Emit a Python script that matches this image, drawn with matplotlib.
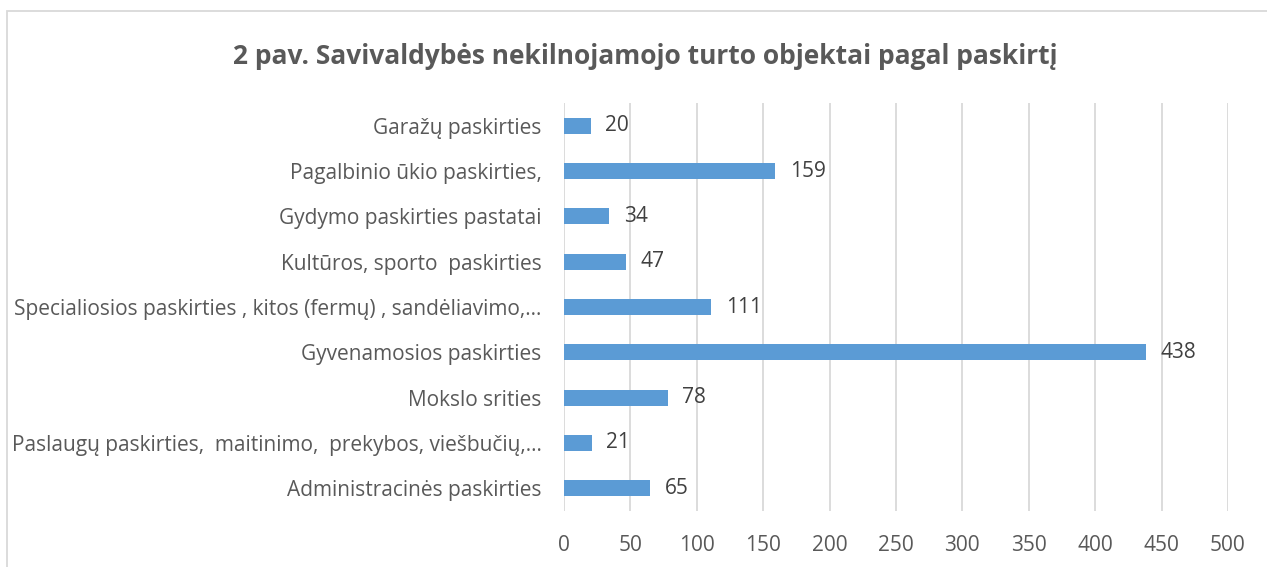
import matplotlib.pyplot as plt
from matplotlib.patches import Rectangle

# Duomenys (iš apačios į viršų)
categories = [
    "Administracinės paskirties",
    "Paslaugų paskirties,  maitinimo,  prekybos, viešbučių,…",
    "Mokslo srities",
    "Gyvenamosios paskirties",
    "Specialiosios paskirties , kitos (fermų) , sandėliavimo,…",
    "Kultūros, sporto  paskirties",
    "Gydymo paskirties pastatai",
    "Pagalbinio ūkio paskirties,",
    "Garažų paskirties",
]
values = [65, 21, 78, 438, 111, 47, 34, 159, 20]
xticks = [0, 50, 100, 150, 200, 250, 300, 350, 400, 450, 500]

plt.rcParams['font.family'] = ['Open Sans', 'DejaVu Sans']

fig = plt.figure(figsize=(12.67, 5.67), dpi=100)
ax = fig.add_axes([0.4451, 0.0988, 0.5241, 0.7195])

ypos = range(len(categories))
ax.barh(ypos, values, height=0.35, color='#5B9BD5', zorder=3)
for y, v in zip(ypos, values):
    ax.text(v + 11, y, str(v), va='center', ha='left', fontsize=15, color='#404040')

ax.set_xlim(0, 500)
ax.set_ylim(-0.5, len(categories) - 0.5)
ax.set_xticks(xticks)
ax.set_yticks(list(ypos))
ax.set_yticklabels(categories)
ax.tick_params(axis='both', length=0, labelsize=15, colors='#595959')
ax.tick_params(axis='x', pad=17)
ax.tick_params(axis='y', pad=16)
ax.grid(axis='x', color='#D9D9D9', linewidth=1.3, zorder=0)
for s in ax.spines.values():
    s.set_visible(False)

fig.text(0.509, 0.9, "2 pav. Savivaldybės nekilnojamojo turto objektai pagal paskirtį",
         ha='center', va='center', fontsize=19, fontweight='bold', color='#595959')

# rėmelis aplink diagramą
fig.patches.append(Rectangle((7 / 1267, -0.1), 1.2, 1 - 11 / 567 + 0.1, transform=fig.transFigure,
                             fill=False, edgecolor='#D9D9D9', linewidth=1.3))

fig.savefig('out.png', dpi=100)
